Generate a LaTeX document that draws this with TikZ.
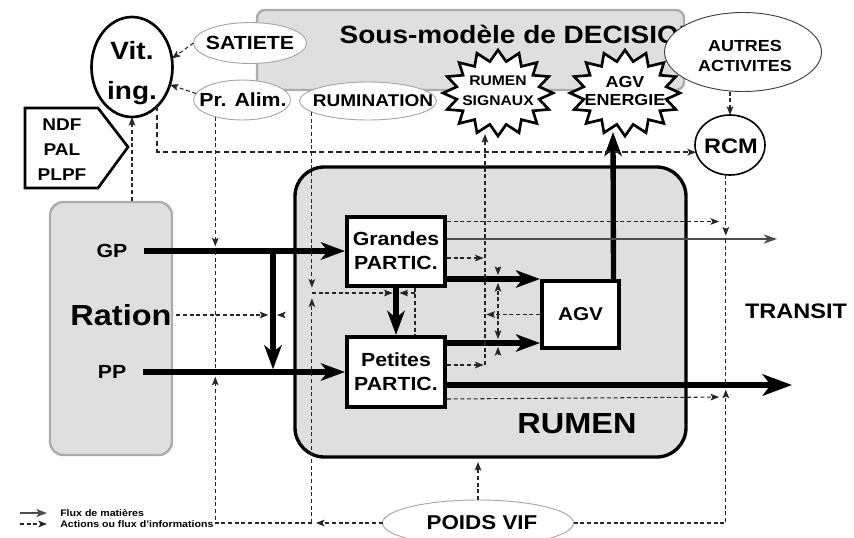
\documentclass[tikz,border=0pt]{standalone}
\usepackage{fontspec}
\setmainfont{Liberation Sans}[FakeStretch=1.12]
\usetikzlibrary{arrows.meta,calc,shapes.geometric}
\tikzset{
  flow/.style={line width=4pt,-{Stealth[length=18pt,width=13pt,inset=5pt]}},
  info/.style={line width=0.8pt,dash pattern=on 3pt off 2pt,black!85,-{Stealth[length=6.5pt,width=5pt,inset=1.5pt]}},
  infoline/.style={line width=0.8pt,dash pattern=on 3pt off 2pt,black!85},
  ctip/.style={line width=0.6pt,black!85,-{Stealth[length=6.5pt,width=5pt,inset=1.5pt]}},
  ell/.style={ellipse,draw=gray!70,line width=0.7pt,fill=white,inner sep=0pt,outer sep=0pt},
  pbox/.style={rectangle,draw,line width=3pt,fill=white,inner sep=0pt,align=center},
  starst/.style={draw,line width=2pt,fill=white,line join=miter},
  graybox/.style={draw=gray!65,line width=1.8pt,fill=gray!25},
}
\begin{document}
\begin{tikzpicture}[x=0.75pt,y=-0.75pt]
\useasboundingbox (0,0) rectangle (854,537);
% big boxes
\node[graybox,rounded corners=6pt,minimum width=320.25pt,minimum height=60pt] (dec) at (470.5,50) {};
\node[anchor=base west,font=\fontsize{18.75pt}{22pt}\selectfont\bfseries] (title) at (335,43) {Sous-modèle de DECISION};
\node[graybox,rounded corners=10pt,minimum width=91.5pt,minimum height=189.75pt] (ration) at (111,328.5) {};
\node[draw=black,line width=2.5pt,fill=gray!25,rounded corners=22pt,minimum width=293.25pt,minimum height=217.5pt] (rumen) at (490.5,312) {};
% top ellipses (shape + text)
\node[ell,minimum width=84.75pt,minimum height=30.75pt] (sat) at (250,43) {};
\node[font=\fontsize{14.25pt}{16pt}\selectfont\bfseries] (satt) at (250,43) {SATIETE};
\node[ell,minimum width=72.75pt,minimum height=30pt] (pra) at (242,100) {};
\node[font=\fontsize{14.25pt}{16pt}\selectfont\bfseries] (prat) at (243,100) {Pr. Alim.};
\node[ell,minimum width=102.75pt,minimum height=28.5pt] (rum) at (368,101) {};
\node[font=\fontsize{12.75pt}{15pt}\selectfont\bfseries] (rumtt) at (373,101) {RUMINATION};
\node[ell,draw=black!75,minimum width=117.75pt,minimum height=59.25pt] (aa) at (743,52) {};
\node[align=center,font=\fontsize{12pt}{15pt}\selectfont\bfseries] (aat) at (745,56) {AUTRES\\ACTIVITES};
% stars
\coordinate (rsc) at (498,93);
\coordinate (aec) at (625,93);
\foreach \c in {rsc,aec}{
\draw[starst] ($(\c)+(55,0)$)
  \foreach \i [evaluate=\i as \rx using {mod(\i,2)==0?55:42},
               evaluate=\i as \ry using {mod(\i,2)==0?43:32},
               evaluate=\i as \a using {\i*11.25}] in {1,...,31}
  { -- ($(\c)+({\rx*cos(\a)},{\ry*sin(\a)})$) } -- cycle;
}
\node[align=center,font=\fontsize{10.5pt}{15pt}\selectfont\bfseries] (rs) at (498,91) {RUMEN\\SIGNAUX};
\node[align=center,font=\fontsize{12pt}{13.5pt}\selectfont\bfseries] (ae) at (625,91) {AGV\\ENERGIE};
% Vit ing
\node[ellipse,draw,line width=2pt,fill=white,minimum width=60.75pt,minimum height=75pt,inner sep=0pt,outer sep=0pt] (vit) at (132,67) {};
\node[align=center,font=\fontsize{18.75pt}{30pt}\selectfont\bfseries] (vitt) at (132,73) {Vit.\\ing.};
\node[ellipse,draw,line width=1.2pt,fill=white,minimum width=52.5pt,minimum height=45pt,inner sep=0pt,outer sep=0pt] (rcm) at (730,145) {};
\node[font=\fontsize{15.75pt}{18pt}\selectfont\bfseries] (rcmt) at (731,146) {RCM};
% NDF pentagon
\draw[line width=2pt,fill=white] (25,108) -- (98,108) -- (128,147) -- (98,188) -- (25,188) -- cycle;
\node[align=center,font=\fontsize{12.75pt}{18.75pt}\selectfont\bfseries] (ndf) at (62,150) {NDF\\PAL\\PLPF};
% ration texts
\node[font=\fontsize{14.25pt}{16pt}\selectfont\bfseries] (gp) at (112,251) {GP};
\node[font=\fontsize{14.25pt}{16pt}\selectfont\bfseries] (pp) at (112,372) {PP};
\node[font=\fontsize{21.75pt}{24pt}\selectfont\bfseries] (rat) at (121,315) {Ration};
% rumen boxes
\node[pbox,minimum width=73.5pt,minimum height=51.75pt,font=\fontsize{14.25pt}{18pt}\selectfont\bfseries] (gra) at (396,251) {Grandes\\PARTIC.};
\node[pbox,minimum width=73.5pt,minimum height=52.5pt,font=\fontsize{14.25pt}{18pt}\selectfont\bfseries] (pet) at (396,372) {Petites\\PARTIC.};
\node[pbox,minimum width=57.75pt,minimum height=50.25pt,font=\fontsize{13.9pt}{16pt}\selectfont\bfseries] (agv) at (580.5,314.5) {AGV};
\node[font=\fontsize{21.75pt}{24pt}\selectfont\bfseries] (rumt) at (577,424) {RUMEN};
\node[font=\fontsize{15.75pt}{18pt}\selectfont\bfseries] (tr) at (796,311) {TRANSIT};
\node[ell,minimum width=143.25pt,minimum height=34.5pt] (pv) at (478,523) {};
\node[font=\fontsize{15pt}{17pt}\selectfont\bfseries] (pvt) at (482,523) {POIDS VIF};
% coordinates
\coordinate (jgp) at (273,251);
\coordinate (jpp) at (273,372);
\coordinate (v1) at (jgp |- rat.east);
\coordinate (vR) at ($(rum.-169 |- jgp)+(0,42)$);
\coordinate (vG) at (gra.south |- vR);
\coordinate (vX) at ([xshift=14.25pt]gra.south |- vR);
\coordinate (sig1) at (485,258);
\coordinate (sig2) at (485,365);
\coordinate (rsB) at (485,134);
\coordinate (vA1) at (498,279);
\coordinate (vA2) at (498,343);
\coordinate (vAm) at (agv.west -| vA1);
\coordinate (aeB) at (613,132);
\coordinate (trA) at (777,239);
\coordinate (trB) at (792,385);
\coordinate (rcA) at (rcm.-98 |- trA);
\coordinate (rcB) at (rcm.-98 |- trB);
\coordinate (rcG) at ($(rcm.-98 |- gra.north)+(0,7)$);
\coordinate (rcP) at ($(rcB)+(0,12)$);
\coordinate (pvA) at (pv.west -| rum.-169);
% material flows
\draw[flow] ([xshift=9pt]gp.east) -- (gra.west);
\draw[flow] ([xshift=9pt]pp.east) -- (pet.west);
\draw[flow,shorten >=2pt] (jgp) -- (jpp);
\draw[flow] (gra.south) -- (pet.north);
\draw[flow] (gra.east |- vA1) -- (agv.west |- vA1);
\draw[flow] (pet.east |- vA2) -- (agv.west |- vA2);
\draw[flow] ([xshift=24.75pt]agv.north) -- (aeB);
\draw[gray!60!black,line width=1pt,-{Stealth[length=10pt,width=7pt,inset=3pt]}] ([yshift=9pt]gra.east) -- (trA);
\draw[flow,-{Stealth[length=22pt,width=16pt,inset=6pt]}] ([yshift=-9.75pt]pet.east) -- (trB);
% information flows
\draw[info,line width=1.4pt,dash pattern=on 4pt off 2.5pt] (vit.-57) |- (rcm.192);
\draw[info] (ration.north -| vit.south) -- (vit.south);
\draw[info] (sat.west) -- (vit.12);
\draw[info] (pra.172) -- (vit.-25);
\draw[info,shorten >=3.5pt] (pra.-148) -- (pra.-148 |- jgp);
\draw[infoline] (pra.-148 |- jgp) -- (pra.-148 |- jpp);
\draw[info,shorten >=3pt] (pv.west) -- (pvA);
\draw[info,shorten >=3.5pt] (pvA) -| (pra.-148 |- jpp);
\draw[info,shorten >=4pt] (pvA) -- (vR);
\draw[info,shorten >=4pt] (rum.-169) -- (vR);
\draw[info,shorten >=2.5pt] (vR) -- (vG);
\draw[infoline] ([xshift=14.25pt]gra.south) -- ([xshift=14.25pt]pet.north);
\draw[info,shorten >=2.5pt] (vX) -- (vG);
\draw[info,shorten >=3.5pt] (rat.east) -- (v1);
\draw[ctip] ($(v1)+(11,0)$) -- ($(v1)+(4,0)$);
\draw[info,shorten >=1pt] ([yshift=-5.25pt]gra.east) -- (sig1);
\draw[info,shorten >=1pt] ([yshift=5.25pt]pet.east) -- (sig2);
\draw[info] (sig2) -- (rsB);
\draw[info,shorten >=1pt] (agv.west) -- (agv.west -| sig1);
\draw[info,shorten >=3pt] (vAm) -- (vA1);
\draw[info,shorten >=3pt] (vAm) -- (vA2);
\draw[ctip] ($(vA1)+(0,-12)$) -- ($(vA1)+(0,-4)$);
\draw[ctip] ($(vA2)+(0,12)$) -- ($(vA2)+(0,4)$);
\draw[info,shorten >=5pt] ([yshift=-5.25pt]gra.north east) -- (rcG);
\draw[info,shorten >=2.5pt] (rcm.-98) -- (rcA);
\draw[infoline] (rcA) -- (rcB);
\draw[info,shorten >=5pt] ([yshift=7.5pt]pet.south east) -- (rcP);
\draw[info,shorten >=3.5pt] (pv.east) -| (rcB);
\draw[info] (aa.south -| rcm.north) -- (rcm.north);
\draw[info,shorten >=2.5pt] (pv.north) -- (pv.north |- rumen.south);
% legend
\coordinate (lg1) at (20,513);
\coordinate (lg1e) at (47,513);
\coordinate (lg2) at (20,524);
\coordinate (lg2e) at (47,524);
\draw[gray!60!black,line width=1pt,-{Stealth[length=8pt,width=6pt,inset=2pt]}] (lg1) -- (lg1e);
\draw[info] (lg2) -- (lg2e);
\node[anchor=west,inner sep=0pt,font=\fontsize{7.1pt}{8pt}\selectfont\bfseries] (lt1) at (60,513) {Flux de matières};
\node[anchor=west,inner sep=0pt,font=\fontsize{7.1pt}{8pt}\selectfont\bfseries] (lt2) at (60,524) {Actions ou flux d'informations};
\end{tikzpicture}
\end{document}
